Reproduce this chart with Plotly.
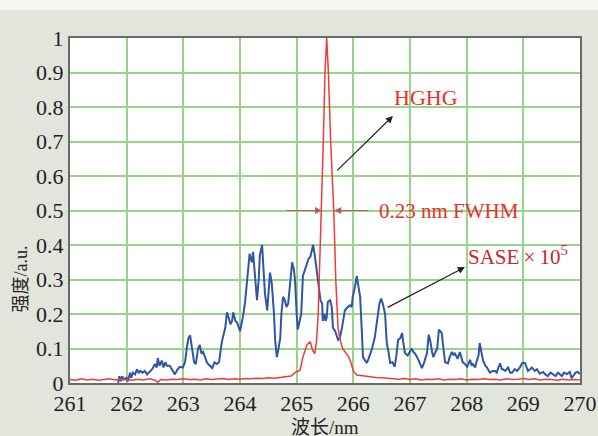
import plotly.graph_objects as go

# SASE (x1e5) spectrum, blue
sase_x = [261.85, 261.87, 261.90, 261.92, 261.95, 261.99, 262.02, 262.06, 262.08, 262.11,
          262.15, 262.18, 262.21, 262.24, 262.28, 262.32, 262.36, 262.41, 262.45, 262.50,
          262.53, 262.55, 262.58, 262.62, 262.65, 262.68, 262.71, 262.76, 262.80, 262.85,
          262.90, 262.94, 262.99, 263.03, 263.06, 263.09, 263.12, 263.15, 263.19, 263.22,
          263.26, 263.29, 263.32, 263.35, 263.39, 263.42, 263.47, 263.51, 263.55, 263.59,
          263.63, 263.68, 263.74, 263.77, 263.80, 263.83, 263.86, 263.88, 263.92, 263.95,
          264.00, 264.05, 264.09, 264.14, 264.17, 264.19, 264.21, 264.23, 264.26, 264.30,
          264.33, 264.35, 264.39, 264.42, 264.44, 264.48, 264.51, 264.53, 264.56, 264.60,
          264.62, 264.65, 264.68, 264.71, 264.73, 264.76, 264.79, 264.82, 264.85, 264.89,
          264.92, 264.95, 264.97, 265.00, 265.02, 265.04, 265.08, 265.11, 265.15, 265.18,
          265.21, 265.24, 265.27, 265.29, 265.32, 265.35, 265.38, 265.42, 265.45, 265.46,
          265.49, 265.51, 265.53, 265.55, 265.59, 265.62, 265.64, 265.68, 265.73, 265.76,
          265.80, 265.85, 265.90, 265.94, 265.97, 265.99, 266.03, 266.06, 266.09, 266.12,
          266.15, 266.17, 266.21, 266.24, 266.29, 266.33, 266.38, 266.43, 266.46, 266.49,
          266.52, 266.56, 266.59, 266.62, 266.65, 266.69, 266.73, 266.76, 266.79, 266.83,
          266.86, 266.88, 266.91, 266.96, 267.00, 267.03, 267.06, 267.09, 267.14, 267.18,
          267.21, 267.25, 267.30, 267.33, 267.36, 267.39, 267.41, 267.45, 267.48, 267.51,
          267.54, 267.56, 267.59, 267.62, 267.67, 267.70, 267.74, 267.77, 267.79, 267.84,
          267.88, 267.93, 267.97, 268.01, 268.06, 268.09, 268.11, 268.15, 268.18, 268.21,
          268.23, 268.26, 268.29, 268.33, 268.36, 268.41, 268.46, 268.50, 268.53, 268.56,
          268.59, 268.62, 268.64, 268.68, 268.73, 268.77, 268.80, 268.85, 268.89, 268.94,
          268.98, 269.03, 269.06, 269.08, 269.12, 269.15, 269.20, 269.24, 269.29, 269.35,
          269.39, 269.43, 269.48, 269.52, 269.57, 269.61, 269.65, 269.68, 269.72, 269.77,
          269.82, 269.85, 269.88, 269.92, 269.96, 270.00]
sase_y = [0.0, 0.02, 0.005, 0.02, 0.01, 0.015, 0.005, 0.03, 0.015, 0.03,
          0.025, 0.04, 0.03, 0.035, 0.03, 0.035, 0.025, 0.035, 0.04, 0.055,
          0.045, 0.072, 0.05, 0.065, 0.045, 0.06, 0.05, 0.05, 0.04, 0.025,
          0.04, 0.047, 0.045, 0.06, 0.1, 0.13, 0.138, 0.1, 0.06, 0.055,
          0.1, 0.11, 0.085, 0.09, 0.07, 0.058, 0.05, 0.043, 0.06, 0.055,
          0.06, 0.12, 0.16, 0.205, 0.19, 0.17, 0.18, 0.205, 0.18, 0.175,
          0.15, 0.19, 0.235, 0.32, 0.375, 0.36, 0.35, 0.38, 0.31, 0.24,
          0.3, 0.37, 0.4, 0.33, 0.26, 0.21, 0.27, 0.32, 0.29, 0.2,
          0.125, 0.075, 0.1, 0.13, 0.2, 0.25, 0.24, 0.22, 0.23, 0.3,
          0.35, 0.33, 0.3, 0.2, 0.155, 0.17, 0.2, 0.31, 0.33, 0.35,
          0.36, 0.365, 0.39, 0.4, 0.37, 0.33, 0.28, 0.24, 0.23, 0.18,
          0.2, 0.18, 0.19, 0.235, 0.24, 0.22, 0.16, 0.15, 0.125, 0.13,
          0.16, 0.21, 0.22, 0.225, 0.22, 0.25, 0.28, 0.31, 0.28, 0.25,
          0.15, 0.075, 0.065, 0.058, 0.08, 0.1, 0.133, 0.2, 0.23, 0.245,
          0.23, 0.2, 0.116, 0.09, 0.058, 0.06, 0.047, 0.08, 0.125, 0.13,
          0.145, 0.12, 0.087, 0.08, 0.09, 0.1, 0.09, 0.085, 0.07, 0.052,
          0.043, 0.06, 0.087, 0.14, 0.12, 0.09, 0.075, 0.09, 0.1, 0.155,
          0.15, 0.145, 0.1, 0.06, 0.057, 0.075, 0.09, 0.08, 0.087, 0.07,
          0.09, 0.06, 0.055, 0.047, 0.067, 0.05, 0.055, 0.045, 0.065, 0.08,
          0.116, 0.09, 0.065, 0.05, 0.045, 0.03, 0.035, 0.035, 0.03, 0.045,
          0.057, 0.04, 0.04, 0.035, 0.045, 0.03, 0.03, 0.04, 0.035, 0.045,
          0.058, 0.058, 0.045, 0.035, 0.04, 0.045, 0.035, 0.04, 0.027, 0.032,
          0.025, 0.02, 0.03, 0.026, 0.02, 0.03, 0.025, 0.02, 0.03, 0.026,
          0.032, 0.015, 0.02, 0.03, 0.032, 0.026]

# HGHG spectrum, red
hghg_x = [261.0, 261.1, 261.2, 261.3, 261.4, 261.5, 261.6, 261.7, 261.8, 261.9,
          262.0, 262.1, 262.2, 262.3, 262.4, 262.5, 262.55, 262.6, 262.7, 262.8,
          262.9, 263.0, 263.1, 263.2, 263.3, 263.4, 263.5, 263.6, 263.7, 263.8,
          263.9, 264.0, 264.1, 264.2, 264.3, 264.4, 264.5, 264.6, 264.7, 264.8,
          264.9, 264.97, 265.06, 265.11, 265.18, 265.24, 265.28, 265.32, 265.35, 265.38,
          265.41, 265.43, 265.47, 265.50, 265.53, 265.56, 265.60, 265.655, 265.69, 265.73,
          265.76, 265.81, 265.87, 265.92, 265.96, 266.00, 266.06, 266.2, 266.3, 266.4,
          266.5, 266.6, 266.7, 266.8, 266.9, 267.0, 267.1, 267.2, 267.3, 267.4,
          267.5, 267.6, 267.7, 267.8, 267.9, 268.0, 268.1, 268.2, 268.3, 268.4,
          268.5, 268.6, 268.7, 268.8, 268.9, 269.0, 269.1, 269.2, 269.3, 269.4,
          269.5, 269.6, 269.7, 269.8, 269.9, 270.0]
hghg_y = [0.01, 0.008, 0.012, 0.009, 0.011, 0.008, 0.01, 0.012, 0.009, 0.011,
          0.01, 0.008, 0.011, 0.009, 0.012, 0.008, 0.002, 0.01, 0.009, 0.011,
          0.01, 0.012, 0.01, 0.011, 0.009, 0.012, 0.01, 0.011, 0.013, 0.01,
          0.012, 0.011, 0.013, 0.012, 0.014, 0.013, 0.015, 0.014, 0.016, 0.017,
          0.02, 0.03, 0.037, 0.075, 0.11, 0.12, 0.095, 0.085, 0.12, 0.2,
          0.35, 0.5, 0.7, 0.9, 1.0, 0.9, 0.7, 0.5, 0.3, 0.16,
          0.13, 0.1, 0.087, 0.075, 0.058, 0.035, 0.023, 0.02, 0.017, 0.016,
          0.015, 0.013, 0.012, 0.011, 0.013, 0.01, 0.012, 0.009, 0.011, 0.01,
          0.012, 0.009, 0.011, 0.01, 0.012, 0.009, 0.011, 0.01, 0.012, 0.01,
          0.011, 0.009, 0.012, 0.01, 0.011, 0.013, 0.01, 0.012, 0.009, 0.011,
          0.01, 0.008, 0.011, 0.009, 0.01, 0.009]

x_ticks = [261, 262, 263, 264, 265, 266, 267, 268, 269, 270]
y_ticks = [0, 0.1, 0.2, 0.3, 0.4, 0.5, 0.6, 0.7, 0.8, 0.9, 1]
y_tick_text = ["0", "0.1", "0.2", "0.3", "0.4", "0.5", "0.6", "0.7", "0.8", "0.9", "1"]

SERIF = "Liberation Serif"
MIXED = "Liberation Serif, Noto Sans CJK SC"
GRID = "#98d38a"

fig = go.Figure()
fig.add_trace(go.Scatter(x=sase_x, y=sase_y, mode="lines",
                         line=dict(color="#2f55a8", width=2), showlegend=False))
fig.add_trace(go.Scatter(x=hghg_x, y=hghg_y, mode="lines",
                         line=dict(color="#f03a3a", width=1.5), showlegend=False))

fig.update_layout(
    width=598, height=436,
    margin=dict(l=70, r=18, t=38, b=53),
    paper_bgcolor="#e2e5dc",
    plot_bgcolor="white",
    font=dict(family=SERIF, size=22, color="#222222"),
    showlegend=False,
)
fig.update_xaxes(range=[261, 270], tickvals=x_ticks, ticktext=[str(v) for v in x_ticks],
                 showgrid=True, gridcolor=GRID, gridwidth=1.5, automargin=False,
                 showline=True, linecolor="#6a6a6a", linewidth=2, mirror=True,
                 ticks="", zeroline=False, tickfont=dict(family=SERIF, size=22, color="#222222"))
fig.update_yaxes(range=[0, 1], tickvals=y_ticks, ticktext=y_tick_text,
                 showgrid=True, gridcolor=GRID, gridwidth=1.5, automargin=False,
                 showline=True, linecolor="#6a6a6a", linewidth=2, mirror=True,
                 ticks="", zeroline=False, tickfont=dict(family=SERIF, size=22, color="#222222"))

# lighter strip at top of the page
fig.add_shape(type="rect", xref="paper", yref="paper", x0=-0.2, x1=1.2,
              y0=1.0 + 28/345, y1=1.2, fillcolor="#f5f7f2", line=dict(width=0), layer="below")

ARROW = "#222222"
FWHM_C = "#b86060"
anns = [
    dict(x=266.70, y=0.774, ax=265.69, ay=0.612, xref="x", yref="y", axref="x", ayref="y",
         showarrow=True, arrowhead=2, arrowsize=1.2, arrowwidth=1.2, arrowcolor=ARROW, text=""),
    dict(x=266.68, y=0.829, xref="x", yref="y", text="HGHG", showarrow=False,
         xanchor="left", yanchor="middle", font=dict(family=SERIF, size=22, color="#e8302a")),
    dict(x=265.45, y=0.5, ax=264.79, ay=0.5, xref="x", yref="y", axref="x", ayref="y",
         showarrow=True, arrowhead=2, arrowsize=1.2, arrowwidth=1.2, arrowcolor=FWHM_C, text=""),
    dict(x=265.66, y=0.5, ax=266.29, ay=0.5, xref="x", yref="y", axref="x", ayref="y",
         showarrow=True, arrowhead=2, arrowsize=1.2, arrowwidth=1.2, arrowcolor=FWHM_C, text=""),
    dict(x=266.41, y=0.5, xref="x", yref="y", text="0.23 nm FWHM", showarrow=False,
         xanchor="left", yanchor="middle", font=dict(family=SERIF, size=21, color="#e8302a")),
    dict(x=267.97, y=0.336, ax=266.58, ay=0.217, xref="x", yref="y", axref="x", ayref="y",
         showarrow=True, arrowhead=2, arrowsize=1.2, arrowwidth=1.2, arrowcolor=ARROW, text=""),
    dict(x=267.98, y=0.37, xref="x", yref="y",
         text="SASE\u2009×\u200910<sup>5</sup>", showarrow=False,
         xanchor="left", yanchor="middle", font=dict(family=SERIF, size=21, color="#c8282c")),
    dict(x=0.5, y=-45/345, xref="paper", yref="paper", text="波长/nm", showarrow=False,
         xanchor="center", yanchor="middle", font=dict(family=MIXED, size=19, color="#222222")),
    dict(x=-50/510, y=0.30, xref="paper", yref="paper", text="强度/a.u.", showarrow=False,
         textangle=-90, xanchor="center", yanchor="middle",
         font=dict(family=MIXED, size=18, color="#222222")),
]
fig.update_layout(annotations=anns)

fig.write_html("out.html", config={"displayModeBar": False},
               post_script="document.body.style.margin='0';document.body.style.background='#e2e5dc';")
